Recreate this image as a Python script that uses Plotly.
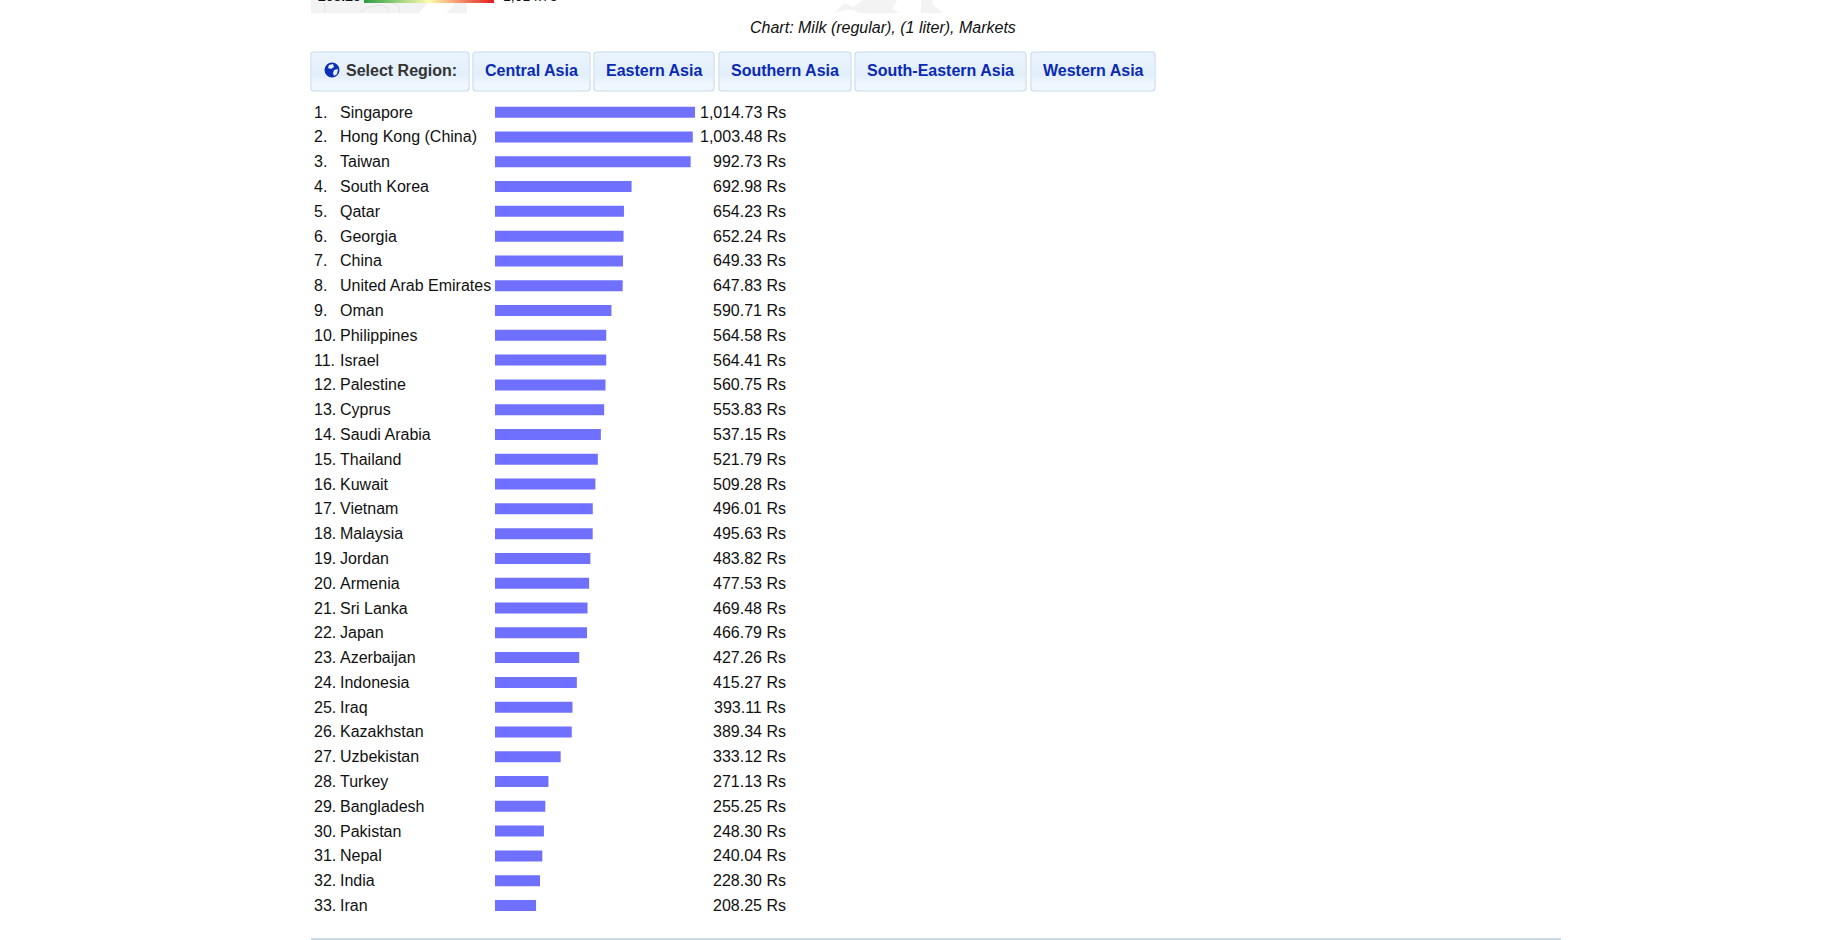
import plotly.graph_objects as go

# ---- data ----
countries = ["Singapore", "Hong Kong (China)", "Taiwan", "South Korea", "Qatar", "Georgia", "China",
             "United Arab Emirates", "Oman", "Philippines", "Israel", "Palestine", "Cyprus", "Saudi Arabia",
             "Thailand", "Kuwait", "Vietnam", "Malaysia", "Jordan", "Armenia", "Sri Lanka", "Japan",
             "Azerbaijan", "Indonesia", "Iraq", "Kazakhstan", "Uzbekistan", "Turkey", "Bangladesh",
             "Pakistan", "Nepal", "India", "Iran"]
prices = [1014.73, 1003.48, 992.73, 692.98, 654.23, 652.24, 649.33, 647.83, 590.71, 564.58, 564.41,
          560.75, 553.83, 537.15, 521.79, 509.28, 496.01, 495.63, 483.82, 477.53, 469.48, 466.79,
          427.26, 415.27, 393.11, 389.34, 333.12, 271.13, 255.25, 248.30, 240.04, 228.30, 208.25]
chart_title = "Chart: Milk (regular), (1 liter), Markets"
select_label = "Select Region:"
regions = ["Central Asia", "Eastern Asia", "Southern Asia", "South-Eastern Asia", "Western Asia"]
legend_min = "208.25"
legend_max = "1,014.73"

# ---- layout helpers (page pixels to paper fractions) ----
W, H = 1824, 940
FONT = "Liberation Sans, Arial, sans-serif"
fx = lambda x: x / W
fy = lambda y: 1 - y / H


def mix(a, b, t):
    return "#%02x%02x%02x" % tuple(round(a[i] + (b[i] - a[i]) * t) for i in range(3))


shapes, annotations = [], []


def rect(x0, y0, x1, y1, fill):
    shapes.append(dict(type="rect", xref="paper", yref="paper", x0=fx(x0), x1=fx(x1), y0=fy(y0), y1=fy(y1),
                       fillcolor=fill, line=dict(width=0), layer="below"))


def path(points, fill):
    d = "M" + " L".join(f"{fx(x):.5f},{fy(y):.5f}" for x, y in points) + " Z"
    shapes.append(dict(type="path", xref="paper", yref="paper", path=d, fillcolor=fill, line=dict(width=0), layer="below"))


def stroke(points, color="#e6e6e6"):
    d = "M" + " L".join(f"{fx(x):.5f},{fy(y):.5f}" for x, y in points)
    shapes.append(dict(type="path", xref="paper", yref="paper", path=d, line=dict(color=color, width=1), layer="below"))


def text(x, y, s, anchor="left", size=16, color="#111111", bold=False, italic=False, yref="paper"):
    if bold:
        s = f"<b>{s}</b>"
    if italic:
        s = f"<i>{s}</i>"
    annotations.append(dict(xref="paper", yref=yref, x=fx(x), y=fy(y) if yref == "paper" else y, text=s, showarrow=False,
                            xanchor=anchor, yanchor="middle", align=anchor, borderpad=0, borderwidth=0,
                            font=dict(family=FONT, size=size, color=color)))


# ---- cropped map fragment at the very top of the page ----
MAP = "#f3f3f3"
path([(311, 0), (432, 0), (426, 5), (418, 13), (311, 13)], MAP)
path([(446, 13), (452, 8), (456, 0), (465, 0), (467, 8), (467, 13)], MAP)
stroke([(325, 13), (324, 3)])
stroke([(360, 13), (366, 8), (380, 5), (388, 8), (389, 13)])
stroke([(392, 3), (399, 6), (399, 13)])
stroke([(418, 13), (423, 5)], "#ececec")
path([(835, 13), (838, 9), (845, 3), (853, 7), (860, 2), (863, 0), (897, 0), (892, 9), (900, 13), (860, 13), (853, 10), (845, 10)], MAP)
path([(921, 0), (932, 0), (933, 5), (941, 11), (941, 13), (921, 13)], MAP)

# colour scale of the map legend
green, yellow, red = (44, 160, 70), (255, 252, 175), (228, 30, 32)
n = 65
for i in range(n):
    t = i / (n - 1)
    c = mix(green, yellow, t / 0.5) if t < 0.5 else mix(yellow, red, (t - 0.5) / 0.5)
    rect(364 + 2 * i, 0, 366 + 2 * i, 3, c)
text(318, -4, legend_min, size=14, color="#111111", bold=True)
text(503, -4, legend_max, size=14, color="#111111")

# chart caption
text(883, 27, chart_title, anchor="center", italic=True)

# ---- region buttons ----
TOP, BOT = 52, 91
button_edges = [(311, 469), (473, 590), (594, 714), (719, 851), (855, 1026), (1031, 1155)]
c_top, c_mid, c_low = (235, 244, 253), (226, 239, 251), (240, 247, 255)
for x0, x1 in button_edges:
    for y in range(TOP, BOT):
        t = (y - TOP) / (BOT - TOP)
        col = mix(c_top, c_mid, t / 0.58) if t < 0.58 else mix(c_mid, c_low, (t - 0.58) / 0.25 if t < 0.83 else 1)
        rect(x0 + 1, y, x1 - 1, y + 1, col)
    r = 3
    d = (f"M{fx(x0 + r)},{fy(TOP)} L{fx(x1 - r)},{fy(TOP)} Q{fx(x1)},{fy(TOP)} {fx(x1)},{fy(TOP + r)} "
         f"L{fx(x1)},{fy(BOT - r)} Q{fx(x1)},{fy(BOT)} {fx(x1 - r)},{fy(BOT)} "
         f"L{fx(x0 + r)},{fy(BOT)} Q{fx(x0)},{fy(BOT)} {fx(x0)},{fy(BOT - r)} "
         f"L{fx(x0)},{fy(TOP + r)} Q{fx(x0)},{fy(TOP)} {fx(x0 + r)},{fy(TOP)} Z")
    shapes.append(dict(type="path", xref="paper", yref="paper", path=d, line=dict(color="#c6dcf0", width=1.2), layer="below"))

# globe icon
shapes.append(dict(type="circle", xref="paper", yref="paper", x0=fx(324.5), x1=fx(339.5), y0=fy(62.5), y1=fy(77.5),
                   fillcolor="#0b2fb5", line=dict(width=0), layer="below"))
path([(329, 65), (333, 64), (334, 67), (331, 69), (328, 68)], "#e8f2fc")
path([(334, 70), (338, 69), (337, 74), (334, 76), (333, 73)], "#e8f2fc")

text(346, 70, select_label, color="#333333", bold=True)
for region, (x0, x1) in zip(regions, button_edges[1:]):
    text((x0 + x1) / 2, 70, region, anchor="center", color="#0a2ab5", bold=True)

# ---- rows ----
for i, (name, value) in enumerate(zip(countries, prices)):
    text(314, name, f"{i + 1}.", yref="y")
    text(340, name, name, yref="y")
    text(786, name, f"{value:,.2f} Rs", anchor="right", yref="y")

# bottom rule
rect(311, 938, 1561, 940, "#c9d9e6")

# ---- bars, through the chart's own axes ----
ROW0, ROWH = 112.2, 24.79
fig = go.Figure(go.Bar(x=prices, y=countries, orientation="h", width=11 / ROWH,
                       marker=dict(color="#7070ff", line=dict(width=0)), hoverinfo="x+y"))
fig.update_layout(
    width=W, height=H, margin=dict(l=0, r=0, t=0, b=0), autosize=False,
    paper_bgcolor="white", plot_bgcolor="rgba(0,0,0,0)", showlegend=False,
    xaxis=dict(domain=[fx(495), fx(695)], range=[0, max(prices)], visible=False, fixedrange=True),
    yaxis=dict(domain=[fy(ROW0 + 32.5 * ROWH), fy(ROW0 - 0.5 * ROWH)], type="category",
               categoryorder="array", categoryarray=countries, range=[32.5, -0.5], visible=False, fixedrange=True),
    shapes=shapes, annotations=annotations,
)
fig.write_html("out.html", config={"displayModeBar": False},
               post_script="document.body.style.margin='0';document.body.style.overflow='hidden';")
